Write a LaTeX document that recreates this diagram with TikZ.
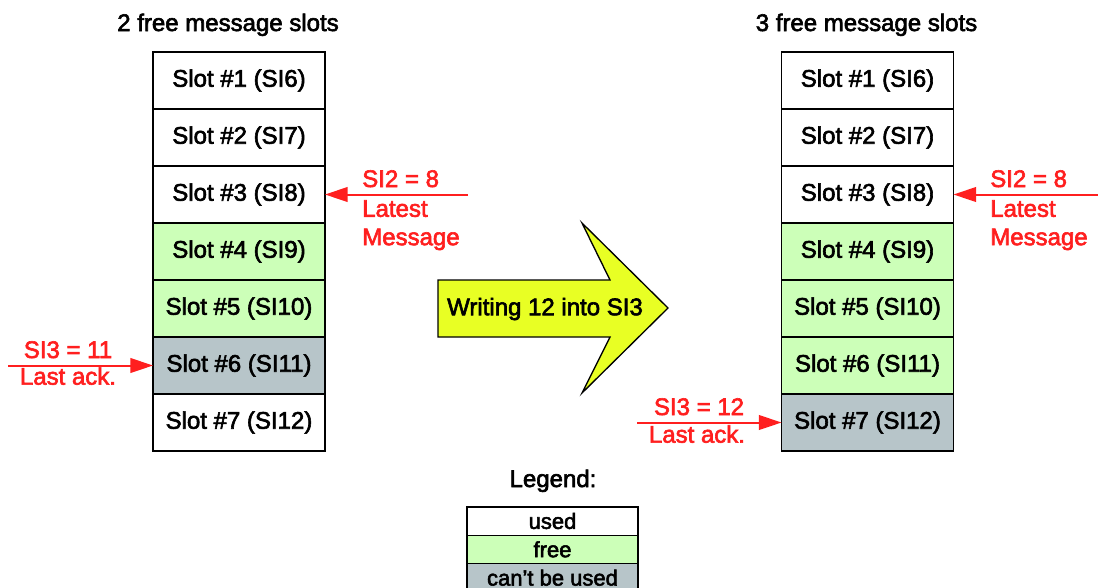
\documentclass[tikz,border=0pt]{standalone}
\usepackage{fontspec}
\setmainfont{Liberation Sans}[FakeBold=2.5]
\usetikzlibrary{positioning,arrows.meta}
\definecolor{freegreen}{HTML}{CCFFB8}
\definecolor{lockgray}{HTML}{B7C5C9}
\definecolor{writeyellow}{HTML}{E8FF24}
\definecolor{ackred}{HTML}{FF1F1F}

\begin{document}
\begin{tikzpicture}[
    x=0.75pt, y=-0.75pt,
    node distance=0pt,
    every node/.style={font=\fontsize{18}{21.3}\selectfont},
    slot/.style={rectangle,draw,line width=1pt,outer sep=0pt,minimum width=129pt,minimum height=42.75pt,inner sep=0pt},
    used/.style={slot,fill=white},
    free/.style={slot,fill=freegreen},
    locked/.style={slot,fill=lockgray},
    keybox/.style={rectangle,draw,line width=1pt,outer sep=0pt,minimum width=128.25pt,minimum height=21.25pt,inner sep=0pt,font=\fontsize{16.5}{19}\selectfont},
    ptr/.style={-{Triangle[length=17pt,width=11pt]},line width=1.5pt,draw=ackred},
    ptrtxt/.style={text=ackred,inner sep=0pt}
]
\useasboundingbox (0,0) rectangle (1098,587);

% before the write
\node[anchor=base] (title1) at (228,31) {2 free message slots};
\node[used] (l1) at (239,80.5) {Slot \#1 (SI6)};
\node[used,below=of l1] (l2) {Slot \#2 (SI7)};
\node[used,below=of l2] (l3) {Slot \#3 (SI8)};
\node[free,below=of l3] (l4) {Slot \#4 (SI9)};
\node[free,below=of l4] (l5) {Slot \#5 (SI10)};
\node[locked,below=of l5] (l6) {Slot \#6 (SI11)};
\node[used,below=of l6] (l7) {Slot \#7 (SI12)};

\coordinate (p1) at (468,194.5);
\draw[ptr] (p1) -- (l3.east);
\node[ptrtxt,anchor=base west] (latest1) at (362,187) {SI2 = 8};
\node[ptrtxt,anchor=north west,align=left] (latestmsg1) at (362,200) {Latest\\Message};

\coordinate (p3) at (8,365.5);
\draw[ptr] (p3) -- (l6.west);
\node[ptrtxt,anchor=base] (ack1) at (68,358) {SI3 = 11};
\node[ptrtxt,anchor=north] (lastack1) at (68,367) {Last ack.};

% the write
\filldraw[fill=writeyellow,line width=1pt] (438,280) -- (610,280) -- (582,223) -- (668,308)
    -- (582,393) -- (610,337) -- (438,337) -- cycle;
\node (write) at (545,309) {Writing 12 into SI3};

% after the write
\node[anchor=base] (title2) at (866.5,31) {3 free message slots};
\node[used] (r1) at (867.5,80.5) {Slot \#1 (SI6)};
\node[used,below=of r1] (r2) {Slot \#2 (SI7)};
\node[used,below=of r2] (r3) {Slot \#3 (SI8)};
\node[free,below=of r3] (r4) {Slot \#4 (SI9)};
\node[free,below=of r4] (r5) {Slot \#5 (SI10)};
\node[free,below=of r5] (r6) {Slot \#6 (SI11)};
\node[locked,below=of r6] (r7) {Slot \#7 (SI12)};

\coordinate (p2) at (1098,194.5);
\draw[ptr] (p2) -- (r3.east);
\node[ptrtxt,anchor=base west] (latest2) at (990,187) {SI2 = 8};
\node[ptrtxt,anchor=north west,align=left] (latestmsg2) at (990,200) {Latest\\Message};

\coordinate (p4) at (637,422.5);
\draw[ptr] (p4) -- (r7.west);
\node[ptrtxt,anchor=base] (ack2) at (699,415) {SI3 = 12};
\node[ptrtxt,anchor=north] (lastack2) at (697,425) {Last ack.};

% legend
\node[anchor=base] (legend) at (553,487) {Legend:};
\node[keybox,fill=white] (k1) at (552.5,521) {used};
\node[keybox,fill=freegreen,below=of k1] (k2) {free};
\node[keybox,fill=lockgray,below=of k2] (k3) {can’t be used};

\end{tikzpicture}
\end{document}
